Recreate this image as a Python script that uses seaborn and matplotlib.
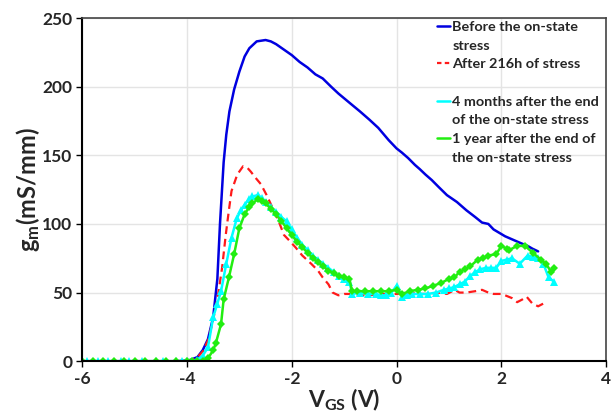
import numpy as np
import pandas as pd
import matplotlib
matplotlib.use('Agg')
import matplotlib.pyplot as plt
from matplotlib.lines import Line2D
import seaborn as sns

# Before the on-state stress (blue)
x_before = [-6.0, -5.0, -4.2, -4.0, -3.93, -3.8, -3.7, -3.6, -3.5, -3.42, -3.37, -3.3, -3.25, -3.19,
            -3.1, -3.0, -2.9, -2.81, -2.67, -2.5, -2.4, -2.3, -2.15, -2.0, -1.85, -1.7, -1.55, -1.41,
            -1.25, -1.11, -0.89, -0.7, -0.52, -0.35, -0.15, 0.0, 0.1, 0.22, 0.35, 0.44, 0.55, 0.67,
            0.8, 0.96, 1.15, 1.33, 1.5, 1.63, 1.75, 1.85, 2.07, 2.25, 2.37, 2.5, 2.59, 2.7]
y_before = [0, 0, 0, 0.5, 1, 3, 8, 16, 32, 60, 100, 145, 165, 182,
            198, 211, 222, 228, 233, 234, 233, 231, 227, 223, 218, 214, 209, 206,
            200, 195, 188, 182, 176, 170, 161, 155, 152, 148, 143, 140, 136, 132,
            127, 121, 116, 110, 105, 101, 100, 96, 91, 88, 86, 84, 82, 80]

# After 216h of stress (red dashed)
x_after = [-4.0, -3.9, -3.8, -3.7, -3.6, -3.5, -3.4, -3.33, -3.26, -3.2, -3.15, -3.04, -2.93, -2.85,
           -2.78, -2.7, -2.59, -2.48, -2.37, -2.25, -2.15, -2.05, -1.93, -1.8, -1.63, -1.5, -1.41, -1.3,
           -1.22, -1.11, -1.0, -0.89, -0.7, -0.52, -0.3, -0.15, 0.0, 0.22, 0.4, 0.59, 0.8, 0.96,
           1.11, 1.2, 1.33, 1.5, 1.63, 1.75, 1.85, 2.0, 2.07, 2.2, 2.3, 2.4, 2.48, 2.59, 2.7, 2.85]
y_after = [0, 1, 3, 7, 15, 30, 50, 68, 92, 110, 124, 136, 142, 141,
           138, 134, 129, 121, 112, 102, 92, 88, 83, 77, 71, 66, 61, 56,
           50, 48, 49, 49, 48, 48, 49, 49, 49, 50, 49, 49, 50, 49,
           52, 50, 50, 51, 52, 50, 49, 49, 48, 46, 43, 45, 47, 42, 40, 43]

# 4 months after the end of the on-state stress (cyan, triangles)
x_4m = [-5.9, -5.7, -5.5, -5.25, -5.1, -4.85, -4.6, -4.45, -4.2, -4.1, -4.0, -3.9, -3.8, -3.7,
        -3.6, -3.5, -3.42, -3.35, -3.25, -3.15, -3.05, -2.97, -2.9, -2.82, -2.75, -2.65, -2.57, -2.5,
        -2.4, -2.3, -2.2, -2.1, -2.0, -1.9, -1.8, -1.7, -1.6, -1.5, -1.4, -1.3, -1.2, -1.1,
        -1.0, -0.9, -0.85, -0.7, -0.55, -0.4, -0.3, -0.2, -0.1, 0.0, 0.1, 0.2, 0.3, 0.45,
        0.6, 0.75, 0.9, 1.0, 1.1, 1.2, 1.3, 1.4, 1.5, 1.6, 1.7, 1.8, 1.9, 2.0,
        2.1, 2.2, 2.35, 2.5, 2.6, 2.7, 2.8, 2.9, 3.0]
y_4m = [0, 0, 0, 0, 0, 0, 0, 0, 0, 0, 0, 0.5, 1, 4,
        10, 32, 42, 51, 71, 90, 104, 110, 114, 118, 120, 121, 119, 116,
        112, 109, 105, 102, 96, 90, 85, 81, 77, 74, 71, 68, 65, 62,
        60, 58, 49, 50, 49, 49, 48, 48, 50, 55, 47, 48, 49, 49,
        49, 50, 52, 53, 54, 56, 58, 62, 65, 67, 68, 68, 68, 73,
        74, 75, 71, 77, 76, 75, 71, 61, 58]

# 1 year after the end of the on-state stress (green, diamonds)
x_1y = [-6.0, -5.8, -5.6, -5.4, -5.2, -5.0, -4.8, -4.6, -4.4, -4.2, -4.0, -3.9, -3.8, -3.7,
        -3.6, -3.5, -3.45, -3.35, -3.3, -3.2, -3.1, -3.0, -2.9, -2.82, -2.75, -2.65, -2.57, -2.5,
        -2.4, -2.3, -2.2, -2.1, -2.0, -1.9, -1.8, -1.7, -1.6, -1.5, -1.4, -1.3, -1.2, -1.1,
        -1.0, -0.9, -0.85, -0.75, -0.6, -0.45, -0.3, -0.15, 0.0, 0.1, 0.25, 0.4, 0.55, 0.7,
        0.85, 1.0, 1.1, 1.2, 1.3, 1.4, 1.55, 1.65, 1.75, 1.9, 2.0, 2.1, 2.15, 2.3, 2.45,
        2.6, 2.75, 2.85, 2.95, 3.0]
y_1y = [0, 0, 0, 0, 0, 0, 0, 0, 0, 0, 0, 0, 0, 0.5,
        2, 8, 13, 27, 45, 61, 78, 97, 107, 112, 115, 118, 117, 115,
        111, 107, 102, 97, 92, 87, 83, 79, 75, 72, 69, 66, 64, 62,
        61, 60, 51, 51, 51, 51, 51, 51, 52, 49, 51, 52, 53, 55,
        57, 60, 61, 65, 67, 69, 74, 75, 77, 78, 84, 82, 81, 84, 84,
        79, 74, 71, 65, 68]

# legend text, one row per line as in the original (wrapped labels)
legend_rows = ['Before the on-state', 'stress', 'After 216h of stress', '',
               '4 months after the end', 'of the on-state stress',
               '1 year after the end of', 'the on-state stress']
colors = ['#0000e0', '#ff1a1a', '#00ffff', '#22ee11']

sns.set_theme(style='whitegrid')
plt.rcParams['font.family'] = ['Lato', 'DejaVu Sans']
plt.rcParams['axes.unicode_minus'] = False
plt.rcParams['mathtext.default'] = 'regular'

fig, ax = plt.subplots(figsize=(6.13, 4.20), dpi=100)
fig.subplots_adjust(left=0.134, right=0.989, top=0.957, bottom=0.14)

sns.lineplot(x=x_before, y=y_before, color=colors[0], linewidth=1.8, ax=ax)
sns.lineplot(x=x_after, y=y_after, color=colors[1], linewidth=1.6, linestyle=(0, (3.5, 2.2)), ax=ax)
sns.lineplot(x=x_4m, y=y_4m, color=colors[2], linewidth=1.8, marker='^', markersize=5.5,
             markeredgewidth=0, ax=ax)
sns.lineplot(x=x_1y, y=y_1y, color=colors[3], linewidth=1.8, marker='D', markersize=3.8,
             markeredgewidth=0, ax=ax)

ax.set_xlim(-6, 4)
ax.set_ylim(0, 250)
ax.set_xticks([-6, -4, -2, 0, 2, 4])
ax.set_yticks([0, 50, 100, 150, 200, 250])
ax.tick_params(axis='both', labelsize=12.5, length=4, width=1, color='black', direction='out',
               bottom=True, left=True, pad=3)
for t in ax.get_xticklabels() + ax.get_yticklabels():
    t.set_fontweight('bold')
ax.grid(True, color='#e4e4e4', linewidth=1)
for side in ['left', 'bottom']:
    ax.spines[side].set_color('black')
    ax.spines[side].set_linewidth(1.5)
for side in ['top', 'right']:
    ax.spines[side].set_color('#444444')
    ax.spines[side].set_linewidth(1.2)

ax.set_xlabel(r'V$_{GS}$ (V)', fontsize=16.5, fontweight='bold', labelpad=0)
ax.set_ylabel(r'g$_{m}$(mS/mm)', fontsize=17, fontweight='bold', labelpad=0)

blank = dict(color='none')
handles = [Line2D([], [], color=colors[0], linewidth=1.8),
           Line2D([], [], **blank),
           Line2D([], [], color=colors[1], linewidth=1.6, linestyle=(0, (2, 1.5))),
           Line2D([], [], **blank),
           Line2D([], [], color=colors[2], linewidth=1.8),
           Line2D([], [], **blank),
           Line2D([], [], color=colors[3], linewidth=1.8),
           Line2D([], [], **blank)]
ax.legend(handles, legend_rows, loc='upper right', bbox_to_anchor=(1.0, 1.012), frameon=False,
          handlelength=0.9, handletextpad=0.15, labelspacing=0.45,
          prop={'weight': 'bold', 'size': 10.4}, borderaxespad=0.1)

fig.savefig('out.png', dpi=100)
